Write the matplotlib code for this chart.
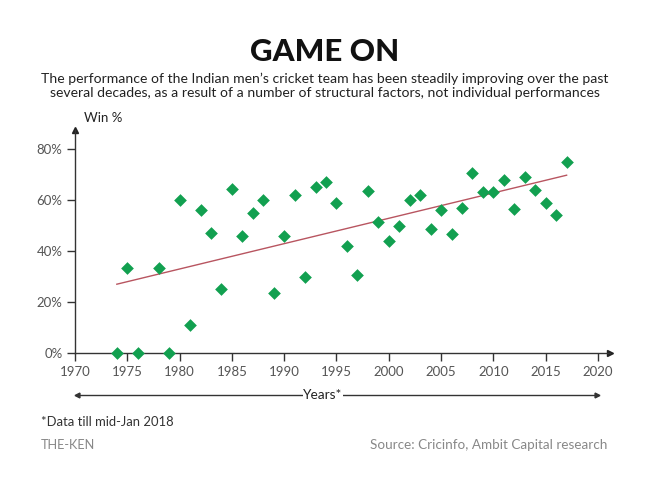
import numpy as np
import matplotlib
matplotlib.use('Agg')
import matplotlib.pyplot as plt
from matplotlib.lines import Line2D

plt.rcParams['font.family'] = ['Lato', 'DejaVu Sans']

# 数据: 年份与胜率
years = [1974, 1975, 1976, 1978, 1979, 1980, 1981, 1982, 1983, 1984,
         1985, 1986, 1987, 1988, 1989, 1990, 1991, 1992, 1993, 1994,
         1995, 1996, 1997, 1998, 1999, 2000, 2001, 2002, 2003, 2004,
         2005, 2006, 2007, 2008, 2009, 2010, 2011, 2012, 2013, 2014,
         2015, 2016, 2017]
win_pct = [0, 33.5, 0, 33.5, 0, 60, 11, 56, 47, 25,
           64.5, 46, 55, 60, 23.5, 46, 62, 30, 65, 67,
           59, 42, 30.5, 63.5, 51.5, 44, 50, 60, 62, 48.5,
           56, 46.5, 57, 70.5, 63, 63, 68, 56.5, 69, 64,
           59, 54, 75]
x_ticks = list(range(1970, 2021, 5))
y_ticks = [0, 20, 40, 60, 80]

W, H = 650, 493
fig = plt.figure(figsize=(6.5, 4.93), dpi=100)

# 坐标轴位置 (像素)
ax_l, ax_b, ax_r, ax_t = 75, 353, 610, 130
ax = fig.add_axes([ax_l / W, 1 - ax_b / H, (ax_r - ax_l) / W, (ax_b - ax_t) / H])
ax.set_xlim(1970, 1970 + (ax_r - ax_l) / 10.46)
ax.set_ylim(0, (ax_b - ax_t) / 2.55)

ax.scatter(years, win_pct, marker='D', s=42, color='#12a050', zorder=3, clip_on=False,
           linewidths=0)

# 趋势线
k, b = np.polyfit(years, win_pct, 1)
xs = np.array([years[0], years[-1]])
ax.plot(xs, k * xs + b, color='#b85560', lw=1.0, zorder=2)

for s in ['top', 'right']:
    ax.spines[s].set_visible(False)
for s in ['left', 'bottom']:
    ax.spines[s].set_color('#333333')
    ax.spines[s].set_linewidth(1.0)

ax.set_xticks(x_ticks)
ax.set_xticklabels([str(t) for t in x_ticks])
ax.set_yticks(y_ticks)
ax.set_yticklabels(['%d%%' % t for t in y_ticks])
ax.tick_params(axis='both', colors='#333333', labelcolor='#555555', labelsize=9.5,
               length=6, width=1.0, direction='out', pad=3)

# 轴末端箭头
ax.plot([0], [1], marker='^', ms=4, color='#222222', transform=ax.transAxes, clip_on=False)
ax.plot([1], [0], marker='>', ms=4, color='#222222', transform=ax.transAxes, clip_on=False)

# 标题
fig.text(0.5, 1 - 52 / H, 'GAME ON', ha='center', va='center', fontsize=22.5,
         fontweight='black', color='#111111')
fig.text(0.5, 1 - 86 / H,
         'The performance of the Indian men\u2019s cricket team has been steadily improving over the past\n'
         'several decades, as a result of a number of structural factors, not individual performances',
         ha='center', va='center', fontsize=10.1, color='#222222', linespacing=1.2)
fig.text(84 / W, 1 - 118 / H, 'Win %', ha='left', va='center', fontsize=9.5, color='#222222')

# Years* 双箭头线
yy = 1 - 395 / H
fig.add_artist(Line2D([77 / W, 597 / W], [yy, yy], color='#333333', lw=1.0))
fig.add_artist(Line2D([77 / W], [yy], marker='<', ms=3.5, color='#333333'))
fig.add_artist(Line2D([597 / W], [yy], marker='>', ms=3.5, color='#333333'))
fig.text(323 / W, yy, 'Years*', ha='center', va='center', fontsize=9.8, color='#222222',
         bbox=dict(facecolor='white', edgecolor='none', pad=0.5))

# 脚注
fig.text(41 / W, 1 - 422 / H, '*Data till mid-Jan 2018', ha='left', va='center',
         fontsize=9.4, color='#333333')
fig.text(41 / W, 1 - 445 / H, 'THE-KEN', ha='left', va='center', fontsize=9.2, color='#888888')
fig.text(607 / W, 1 - 445 / H, 'Source: Cricinfo, Ambit Capital research', ha='right',
         va='center', fontsize=9.7, color='#888888')

fig.savefig('out.png', dpi=100, facecolor='white')
